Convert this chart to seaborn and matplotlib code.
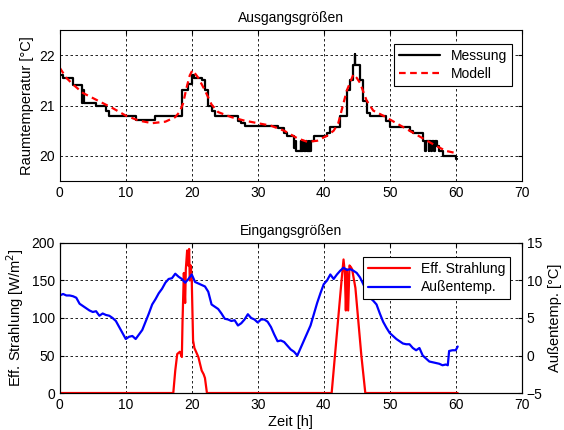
import numpy as np
import pandas as pd
import matplotlib
matplotlib.use("Agg")
import matplotlib.pyplot as plt
import seaborn as sns
from matplotlib.lines import Line2D

# ---------------- data ----------------
# Messung (measured room temperature), step data
mess_t = [0, 0.5, 2, 3.4, 3.5, 3.6, 4, 5.5, 7, 7.5, 11.5, 14.5, 18.5, 19.5, 20.0, 20.3, 20.5,
          21.5, 22, 22.5, 23, 23.5, 27, 27.5, 28, 33, 34, 34.5, 35.5, 35.6, 35.8, 36.5, 36.6,
          36.9, 37.0, 37.3, 37.4, 37.7, 37.8, 38.1, 38.5, 40.5, 41, 42, 42.5, 43.5, 44.0,
          44.5, 44.7, 44.8, 45.0, 45.5, 46, 46.5, 47, 49, 49.5, 50, 53, 53.5, 55, 55.3, 55.5,
          55.9, 56.0, 56.3, 56.4, 56.7, 56.8, 57.1, 57.5, 58, 60, 60.2]
mess_v = [21.6, 21.55, 21.4, 21.05, 21.3, 21.05, 21.05, 21.0, 20.9, 20.8, 20.72, 20.8, 21.3,
          21.42, 21.6, 21.55, 21.55, 21.5, 21.3, 21.0, 20.9, 20.8, 20.7, 20.65, 20.6, 20.55,
          20.45, 20.4, 20.15, 20.3, 20.1, 20.3, 20.1, 20.3, 20.1, 20.3, 20.1, 20.3, 20.1,
          20.3, 20.4, 20.45, 20.58, 20.58, 20.8, 21.3, 21.5, 21.8, 22.02, 21.8, 21.8, 21.5,
          21.1, 20.85, 20.8, 20.8, 20.7, 20.58, 20.5, 20.45, 20.3, 20.1, 20.3, 20.1, 20.3,
          20.1, 20.3, 20.1, 20.3, 20.2, 20.1, 20.0, 19.93, 19.93]

# Modell (model room temperature)
mod_t = [0, 1, 2, 3.5, 5, 6.5, 8, 10, 12, 14, 16, 17.5, 18.2, 18.7, 19.2, 19.7, 20.1, 20.6,
         21, 22, 23, 24, 26, 28, 30, 32, 34, 36, 37.5, 39, 40.5, 41.5, 42.2, 42.8, 43.5,
         44.5, 45.0, 45.5, 46.5, 47.5, 49, 51, 53, 55, 57, 58.5, 60.2]
mod_v = [21.75, 21.55, 21.42, 21.25, 21.15, 21.05, 20.95, 20.8, 20.7, 20.65, 20.68, 20.77,
         20.88, 21.05, 21.35, 21.6, 21.7, 21.62, 21.55, 21.3, 21.02, 20.87, 20.77, 20.7,
         20.65, 20.6, 20.5, 20.35, 20.28, 20.3, 20.4, 20.5, 20.65, 20.95, 21.3, 21.62,
         21.55, 21.45, 21.1, 20.9, 20.8, 20.65, 20.5, 20.35, 20.2, 20.1, 20.05]

# Eff. Strahlung (effective radiation) [W/m^2]
rad_t = [0, 17.2, 17.5, 17.8, 18.2, 18.5, 18.6, 18.8, 19.0, 19.1, 19.3, 19.45, 19.6, 19.7,
         19.85, 20.0, 20.2, 20.4, 21.0, 21.5, 21.8, 22.0, 22.3, 41.2, 41.7, 42.2, 42.7,
         43.0, 43.2, 43.35, 43.5, 43.7, 43.9, 44.1, 44.3, 44.8, 45.2, 45.7, 46.3, 60.3]
rad_v = [0, 0, 30, 52, 55, 48, 95, 160, 120, 165, 190, 170, 192, 150, 170, 150, 70, 60,
         48, 30, 25, 20, 0, 0, 50, 100, 150, 178, 160, 110, 165, 110, 170, 168, 165, 140,
         100, 50, 0, 0]

# Außentemperatur (outdoor temperature) [°C]
aus_t = [0, 0.5, 1, 1.5, 2, 2.5, 3, 3.5, 4, 4.5, 5, 5.5, 6, 6.5, 7, 7.5, 8, 8.5, 9, 9.5,
         10, 10.5, 11, 11.5, 12, 12.5, 13, 13.5, 14, 14.5, 15, 15.5, 16, 16.5, 17, 17.5,
         18, 18.5, 19, 19.5, 20, 20.5, 21, 21.5, 22, 22.5, 23, 23.5, 24, 24.5, 25, 25.5,
         26, 26.5, 27, 27.5, 28, 28.5, 29, 29.5, 30, 30.5, 31, 31.5, 32, 32.5, 33, 33.5,
         34, 34.5, 35, 35.5, 36, 36.5, 37, 37.5, 38, 38.5, 39, 39.5, 40, 40.5, 41, 41.5,
         42, 42.5, 43, 43.5, 44, 44.5, 45, 45.5, 46, 46.5, 47, 47.5, 48, 48.5, 49, 49.5,
         50, 50.5, 51, 51.5, 52, 52.5, 53, 53.5, 54, 54.5, 55, 55.5, 56, 56.5, 57, 57.5,
         58, 58.5, 58.8, 59, 59.5, 60, 60.3]
aus_v = [8.0, 8.2, 8.0, 8.0, 7.9, 7.7, 6.9, 6.6, 6.3, 6.0, 5.8, 5.9, 5.3, 5.6, 5.4, 5.3,
         5.0, 4.6, 3.8, 3.0, 2.2, 2.5, 2.6, 2.2, 2.8, 3.4, 4.5, 5.6, 6.8, 7.5, 8.3, 8.9,
         9.7, 10.2, 10.3, 10.9, 10.5, 10.2, 9.7, 10.2, 10.8, 9.8, 9.6, 9.4, 9.2, 8.5, 6.8,
         6.5, 6.2, 5.6, 4.9, 4.8, 4.6, 4.7, 4.0, 4.3, 4.8, 5.5, 5.0, 4.8, 4.4, 4.8, 4.8, 4.5,
         3.8, 2.8, 1.9, 2.0, 1.8, 1.3, 0.8, 0.5, 0.0, 1.0, 2.0, 3.0, 4.0, 5.5, 7.0, 8.3,
         9.5, 10.0, 10.8, 10.2, 10.8, 11.3, 11.7, 11.4, 11.5, 11.3, 11.0, 10.4, 9.5, 8.5,
         7.7, 7.3, 6.8, 5.6, 4.5, 3.7, 3.0, 2.6, 2.2, 1.9, 1.6, 1.5, 1.5, 1.0, 0.7, 1.0,
         0.0, -0.4, -0.8, -0.9, -1.0, -1.1, -1.3, -1.2, -1.3, 0.6, 0.7, 0.7, 1.2]

# ---------------- style ----------------
sns.set_style("white")
plt.rcParams["font.family"] = ["Liberation Sans", "DejaVu Sans"]
plt.rcParams["font.size"] = 10
plt.rcParams["axes.labelsize"] = 10.5
plt.rcParams["xtick.labelsize"] = 10
plt.rcParams["ytick.labelsize"] = 10
plt.rcParams["xtick.direction"] = "in"
plt.rcParams["ytick.direction"] = "in"
plt.rcParams["axes.edgecolor"] = "black"
plt.rcParams["axes.linewidth"] = 0.8
plt.rcParams["text.color"] = "black"
plt.rcParams["axes.labelcolor"] = "black"
plt.rcParams["xtick.color"] = "black"
plt.rcParams["ytick.color"] = "black"

fig = plt.figure(figsize=(5.64, 4.30), dpi=100)
fig.patch.set_facecolor("white")
ax1 = fig.add_axes([0.106, 0.579, 0.819, 0.351])
ax2 = fig.add_axes([0.106, 0.086, 0.819, 0.349])

grid_kw = dict(color="black", linestyle=(0, (3, 3)), linewidth=0.6)

# ---- top ----
df_m = pd.DataFrame({"t": mess_t, "v": mess_v})
df_mod = pd.DataFrame({"t": mod_t, "v": mod_v})
sns.lineplot(data=df_m, x="t", y="v", ax=ax1, color="black", linewidth=1.6,
             drawstyle="steps-post", label="Messung", sort=False, estimator=None)
sns.lineplot(data=df_mod, x="t", y="v", ax=ax1, color="#ff0000", linewidth=1.6,
             linestyle=(0, (3, 2)), label="Modell", sort=False, estimator=None)
ax1.set_xlim(0, 70)
ax1.set_ylim(19.5, 22.5)
ax1.set_xticks(range(0, 71, 10))
ax1.set_yticks([20, 21, 22])
ax1.grid(True, **grid_kw)
ax1.set_xlabel("")
ax1.set_ylabel("Raumtemperatur [°C]")
ax1.set_title("Ausgangsgrößen", fontsize=10, pad=6)
ax1.tick_params(top=True, right=True, length=3)
leg1 = ax1.legend(loc="upper right", fontsize=10, frameon=True, fancybox=False,
                  edgecolor="black", framealpha=1, borderpad=0.35, handlelength=3.0,
                  labelspacing=0.3, bbox_to_anchor=(0.995, 0.955))
leg1.get_frame().set_linewidth(0.8)

# ---- bottom ----
df_r = pd.DataFrame({"t": rad_t, "v": rad_v})
df_a = pd.DataFrame({"t": aus_t, "v": aus_v})
ax3 = ax2.twinx()
ax3.set_position(ax2.get_position())
sns.lineplot(data=df_r, x="t", y="v", ax=ax2, color="#ff0000", linewidth=1.6,
             sort=False, estimator=None, legend=False)
sns.lineplot(data=df_a, x="t", y="v", ax=ax3, color="#0000ff", linewidth=1.6,
             sort=False, estimator=None, legend=False)
ax2.set_xlim(0, 70)
ax2.set_ylim(0, 200)
ax3.set_ylim(-5, 15)
ax2.set_xticks(range(0, 71, 10))
ax2.set_yticks(range(0, 201, 50))
ax3.set_yticks(range(-5, 16, 5))
ax2.grid(True, **grid_kw)
ax3.grid(False)
ax2.set_xlabel("Zeit [h]", labelpad=2)
ax2.set_ylabel("Eff. Strahlung [W/m$^2$]")
ax3.set_ylabel("Außentemp. [°C]")
ax2.set_title("Eingangsgrößen", fontsize=10, pad=6)
ax2.tick_params(top=True, length=3)
ax3.tick_params(length=3)
handles = [Line2D([], [], color="#ff0000", linewidth=1.6),
           Line2D([], [], color="#0000ff", linewidth=1.6)]
leg2 = ax3.legend(handles, ["Eff. Strahlung", "Außentemp."], loc="upper right",
                  fontsize=10, frameon=True, fancybox=False, edgecolor="black",
                  framealpha=1, borderpad=0.35, handlelength=3.0, labelspacing=0.3,
                  bbox_to_anchor=(0.99, 0.95))
leg2.get_frame().set_linewidth(0.8)

fig.savefig("out.png", dpi=100, facecolor="white")
